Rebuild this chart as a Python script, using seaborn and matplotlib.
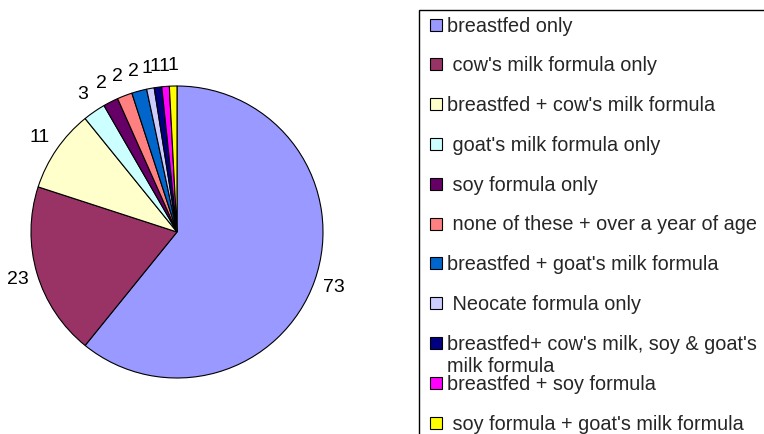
import matplotlib.pyplot as plt
import seaborn as sns
from matplotlib.patches import Rectangle

# feeding type counts
labels = ["breastfed only", " cow's milk formula only", "breastfed + cow's milk formula",
          " goat's milk formula only", " soy formula only", " none of these + over a year of age",
          "breastfed + goat's milk formula", " Neocate formula only",
          "breastfed+ cow's milk, soy & goat's\nmilk formula", "breastfed + soy formula",
          " soy formula + goat's milk formula"]
counts = [73, 23, 11, 3, 2, 2, 2, 1, 1, 1, 1]
colors = ["#9999FF", "#993366", "#FFFFCC", "#CCFFFF", "#660066", "#FF8080",
          "#0066CC", "#CCCCFF", "#000080", "#FF00FF", "#FFFF00"]

sns.set_style("white")
plt.rcParams['font.family'] = ['Liberation Sans', 'DejaVu Sans']

W, H = 764, 434
fig = plt.figure(figsize=(W / 100, H / 100), dpi=100)

# pie: centre (177, 232) px, radius 146 px
cx, cy, r = 177, 232, 146
ax = fig.add_axes([(cx - r) / W, (H - cy - r) / H, 2 * r / W, 2 * r / H])
wedges, texts = ax.pie(counts, colors=colors, labels=[str(c) for c in counts],
                       startangle=90, counterclock=False, labeldistance=1.14,
                       wedgeprops=dict(edgecolor='black', linewidth=0.8),
                       textprops=dict(fontsize=14, color='black'))
for t in texts:
    t.set_ha('center')
    t.set_va('center')
ax.set_xlim(-1, 1)
ax.set_ylim(-1, 1)
ax.set_aspect('equal')
ax.axis('off')

# legend box (runs off the right and bottom edges)
fig.patches.append(Rectangle((419 / W, -0.05), 1.0, (H - 10) / H + 0.05,
                             transform=fig.transFigure, fill=False,
                             edgecolor='black', linewidth=1.0, figure=fig))
y0, step = 24.5, 39.8
for i, (lab, col) in enumerate(zip(labels, colors)):
    y = y0 + i * step
    fig.patches.append(Rectangle((430 / W, (H - y - 6) / H), 12 / W, 12 / H,
                                 transform=fig.transFigure, facecolor=col,
                                 edgecolor='black', linewidth=0.8, figure=fig))
    fig.text(447 / W, (H - y + 8) / H, lab, fontsize=14.3, ha='left', va='top',
             linespacing=1.22)

fig.savefig("out.png", dpi=100)
